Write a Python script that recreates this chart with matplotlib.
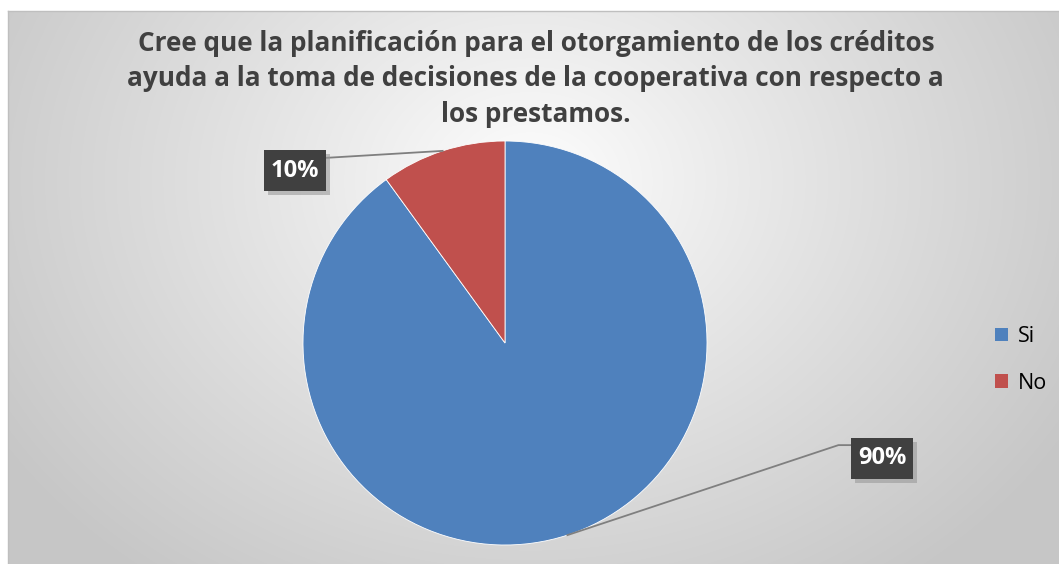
import numpy as np
import matplotlib.pyplot as plt

# Survey answers
categories = ['Si', 'No']
values = [90, 10]
colors = ['#4F81BD', '#C0504D']
title = ('Cree que la planificación para el otorgamiento de los créditos\n'
         'ayuda a la toma de decisiones de la cooperativa con respecto a\n'
         'los prestamos.')

W, H = 1059, 564
fig = plt.figure(figsize=(W / 100, H / 100), dpi=100)
fig.patch.set_facecolor('white')

# pixel-based axes so the pie can be placed where the reference has it
ax = fig.add_axes([0, 0, 1, 1])

# radial grey gradient background of the chart area
x0 = 8
yy, xx = np.mgrid[0:H - 11, 0:W - x0]
cx, cy = 530 - x0, 170
d = np.sqrt((xx - cx) ** 2 + ((yy - cy) * 1.25) ** 2) / 620
d = np.clip(d, 0, 1)
shade = 1.0 - 0.22 * d ** 0.9
img = np.dstack([shade, shade, shade])
ax.imshow(img, extent=[x0, W, 0, H - 11], origin='upper', zorder=0,
          interpolation='bilinear', aspect='auto')
ax.plot([x0, W], [H - 11, H - 11], color='#bfbfbf', lw=1, zorder=1)
ax.plot([x0, x0], [0, H - 11], color='#bfbfbf', lw=1, zorder=1)

center = (505, H - 343)
radius = 202
wedges, _ = ax.pie(values, colors=colors, startangle=90, counterclock=False,
                   center=center, radius=radius, frame=True,
                   wedgeprops=dict(edgecolor='white', linewidth=0.6, zorder=2))
ax.set_xlim(0, W)
ax.set_ylim(0, H)
ax.set_aspect('equal')
ax.axis('off')

# label boxes: offset of box centre from the wedge edge point (pixels)
offsets = [(315, 77), (-148, -20)]
bw, bh = 62, 41
for w, v, (ox, oy) in zip(wedges, values, offsets):
    ang = np.deg2rad((w.theta1 + w.theta2) / 2)
    ex = center[0] + radius * np.cos(ang)
    ey = center[1] + radius * np.sin(ang)
    bx, by = ex + ox, ey + oy
    if ox > 0:
        ax.plot([ex, bx - bw / 2 - 13, bx - bw / 2], [ey, by + 13, by + 13],
                color='#7f7f7f', lw=1.3, zorder=3)
    else:
        ax.plot([ex, bx + bw / 2], [ey, by + 13], color='#7f7f7f', lw=1.3, zorder=3)
    ax.add_patch(plt.Rectangle((bx - bw / 2 + 4, by - bh / 2 - 4), bw, bh,
                               fc='#9a9a9a', ec='none', alpha=0.6, zorder=3))
    ax.add_patch(plt.Rectangle((bx - bw / 2, by - bh / 2), bw, bh,
                               fc='#404040', ec='none', zorder=4))
    ax.text(bx, by, f'{v}%', ha='center', va='center', fontsize=17,
            fontweight='bold', color='white', family='Open Sans', zorder=5)

fig.text(0.506, 1 - 79 / H, title, ha='center', va='center', fontsize=18.8,
         fontweight='bold', color='#404040', family='Open Sans', linespacing=1.42)

handles = [plt.Rectangle((0, 0), 1, 1, fc=c) for c in colors]
fig.legend(handles, categories, loc='center left', bbox_to_anchor=(976 / W, 1 - 360 / H),
           frameon=False, prop=dict(family='Open Sans', size=15.5), handlelength=0.6,
           handleheight=0.6, handletextpad=0.45, labelspacing=1.2)

fig.savefig('out.png', dpi=100, facecolor='white')
